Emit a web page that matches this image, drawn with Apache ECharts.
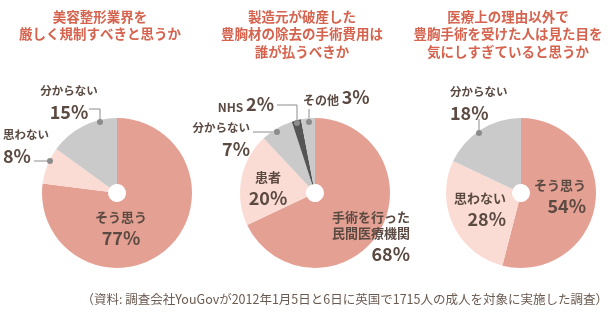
<!DOCTYPE html>
<html>
<head>
<meta charset="utf-8">
<script src="https://cdn.jsdelivr.net/npm/echarts@6/dist/echarts.min.js"></script>
<style>
html,body{margin:0;padding:0;background:#fff;}
#main{width:610px;height:323px;}
</style>
</head>
<body>
<div id="main"></div>
<script>
// ---- data ----
const titles = [
  '美容整形業界を\n厳しく規制すべきと思うか',
  '製造元が破産した\n豊胸材の除去の手術費用は\n誰が払うべきか',
  '医療上の理由以外で\n豊胸手術を受けた人は見た目を\n気にしすぎていると思うか'
];
const categories1 = ['そう思う', '思わない', '分からない'];
const values1 = [77, 8, 15];
const categories2 = ['手術を行った\n民間医療機関', '患者', '分からない', 'NHS', 'その他'];
const values2 = [68, 20, 7, 2, 3];
const categories3 = ['そう思う', '思わない', '分からない'];
const values3 = [54, 28, 18];
const source = '（資料: 調査会社YouGovが2012年1月5日と6日に英国で1715人の成人を対象に実施した調査）';

// ---- styles ----
const SALMON = '#e4a193', PINK = '#fbdcd4', GRAY = '#c9cac9', DARK = '#555555';
const colors1 = [SALMON, PINK, GRAY];
const colors2 = [SALMON, PINK, GRAY, DARK, GRAY];
const colors3 = [SALMON, PINK, GRAY];
const TEXT = '#5b4a42';
const TITLE = '#d6634e';
const LINE = '#8c8c8c';
const FONT = '"Noto Sans CJK JP", "Noto Sans", sans-serif';

// label placement (layout only); big: larger name text inside slice
const layouts1 = [
  {x: 121, y: 209, align: 'center', big: true},
  {x: 3, y: 127, align: 'left', line: [[34, 161], [42, 161], [50, 161]]},
  {x: 69, y: 83, align: 'center', line: [[89, 109], [100, 109], [100, 122]]}
];
const layouts2 = [
  {x: 410, y: 209, align: 'right', big: true},
  {x: 268, y: 169, align: 'center', big: true},
  {x: 250, y: 120, align: 'right', line: [[253, 132], [265, 132], [277, 132]]},
  {x: 274, y: 93, align: 'right', inline: true, line: [[277, 105], [297, 105], [297, 123]]},
  {x: 303, y: 86, align: 'left', inline: true, line: [[309, 109], [309, 115], [309, 122]]}
];
const layouts3 = [
  {x: 586, y: 177, align: 'right', big: true},
  {x: 506, y: 190, align: 'right', big: true},
  {x: 450, y: 84, align: 'left', line: [[479, 119], [479, 126], [479, 133]]}
];
const centers = [[117, 193], [315, 193], [521, 193]];
const titleX = [100, 302, 508];

function makeSeries(cats, vals, cols, layouts, center) {
  return {
    type: 'pie',
    center: center,
    radius: [9, 75],
    startAngle: 90,
    clockwise: true,
    silent: true,
    avoidLabelOverlap: false,
    data: vals.map((v, i) => {
      const L = layouts[i];
      const nm = L.big ? 'nb' : 'n';
      return {
        name: cats[i],
        value: v,
        itemStyle: {color: cols[i]},
        label: {
          formatter: L.inline
            ? '{n2|' + cats[i] + '} {v2|' + v + '%}'
            : '{' + nm + '|' + cats[i] + '}\n{v|' + v + '%}'
        },
        labelLine: {show: !!L.line}
      };
    }),
    label: {
      show: true,
      position: 'outside',
      color: TEXT,
      fontFamily: FONT,
      fontWeight: 'bold',
      rich: {
        n: {fontSize: 11.5, lineHeight: 16, fontWeight: 'bold', color: TEXT, fontFamily: FONT},
        nb: {fontSize: 13, lineHeight: 16, fontWeight: 'bold', color: TEXT, fontFamily: FONT},
        v: {fontSize: 18, lineHeight: 26, fontWeight: 'bold', color: TEXT, fontFamily: FONT},
        n2: {fontSize: 12, lineHeight: 14, fontWeight: 'bold', color: TEXT, fontFamily: FONT, verticalAlign: 'bottom'},
        v2: {fontSize: 18, lineHeight: 20, fontWeight: 'bold', color: TEXT, fontFamily: FONT, verticalAlign: 'bottom'}
      }
    },
    labelLine: {show: true, length: 5, length2: 5, smooth: false, lineStyle: {color: LINE, width: 1}},
    labelLayout: function (p) {
      const L = layouts[p.dataIndex];
      const o = {x: L.x, y: L.y, align: L.align, verticalAlign: 'top'};
      if (L.line) o.labelLinePoints = L.line;
      return o;
    }
  };
}

const dots = [];
[layouts1, layouts2, layouts3].forEach(ls => ls.forEach(L => {
  if (L.line) {
    const p = L.line[L.line.length - 1];
    dots.push({type: 'circle', shape: {cx: p[0], cy: p[1], r: 3}, style: {fill: LINE}, silent: true, z: 100});
  }
}));

const chart = echarts.init(document.getElementById('main'), null, {renderer: 'canvas'});
chart.setOption({
  backgroundColor: '#ffffff',
  animation: false,
  title: titles.map((t, i) => ({
    text: t,
    left: titleX[i],
    top: 8,
    textAlign: 'center',
    padding: 0,
    textStyle: {fontSize: 13.5, fontWeight: 'bold', color: TITLE, lineHeight: 17.5, fontFamily: FONT}
  })).concat([{
    text: source,
    right: 2,
    top: 293,
    padding: 0,
    textStyle: {fontSize: 12.5, fontWeight: 'normal', color: '#6b5a50', fontFamily: FONT}
  }]),
  graphic: dots,
  series: [
    makeSeries(categories1, values1, colors1, layouts1, centers[0]),
    makeSeries(categories2, values2, colors2, layouts2, centers[1]),
    makeSeries(categories3, values3, colors3, layouts3, centers[2])
  ]
});
</script>
</body>
</html>
